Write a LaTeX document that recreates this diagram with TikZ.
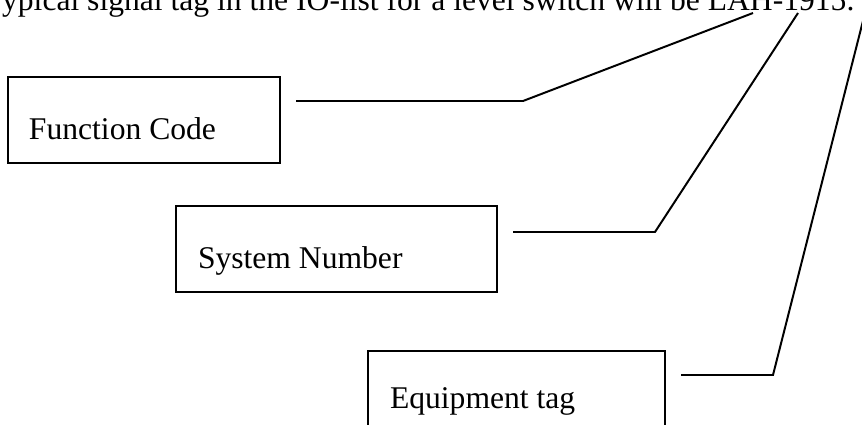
\documentclass[tikz,border=0pt]{standalone}
\usepackage{fontspec}
\setmainfont{Liberation Serif}
\newdimen\pxu
\pxu=0.3797pt
\begin{document}
\begin{tikzpicture}[x=\pxu, y=-\pxu,
  every node/.style={inner sep=0pt, outer sep=0pt},
  txt/.style={font=\fontsize{12pt}{14pt}\selectfont, anchor=base west},
  tagbox/.style={draw, line width=0.75pt, anchor=north west},
  lead/.style={draw, line width=0.75pt, line join=miter}]
\useasboundingbox (0,0) rectangle (862,425);

% heading line with the full tag
\node[txt] (title) at (-15,10) {Typical signal tag in the IO-list for a level switch will be LAH-1915.};

% the three parts of the tag
\node[tagbox, minimum width=272*\pxu, minimum height=86*\pxu] (fc) at (8,77) {};
\node[txt] (fctext) at (29,139) {Function Code};

\node[tagbox, minimum width=321*\pxu, minimum height=86*\pxu] (sn) at (176,206) {};
\node[txt] (sntext) at (198,268) {System Number};

\node[tagbox, minimum width=297*\pxu, minimum height=100*\pxu] (eq) at (368,351) {};
\node[txt] (eqtext) at (390,408) {Equipment tag};

% leader lines from the boxes up to the tag letters
\coordinate (fc-a) at (296,101);
\coordinate (fc-b) at (523,101);
\coordinate (fc-c) at (753,13);
\coordinate (sn-a) at (513,232);
\coordinate (sn-b) at (655,232);
\coordinate (sn-c) at (798,13);
\coordinate (eq-a) at (681,375);
\coordinate (eq-b) at (773,375);
\coordinate (eq-c) at (865,13);

\draw[lead] (fc-a) -- (fc-b) -- (fc-c);
\draw[lead] (sn-a) -- (sn-b) -- (sn-c);
\draw[lead] (eq-a) -- (eq-b) -- (eq-c);
\end{tikzpicture}
\end{document}
